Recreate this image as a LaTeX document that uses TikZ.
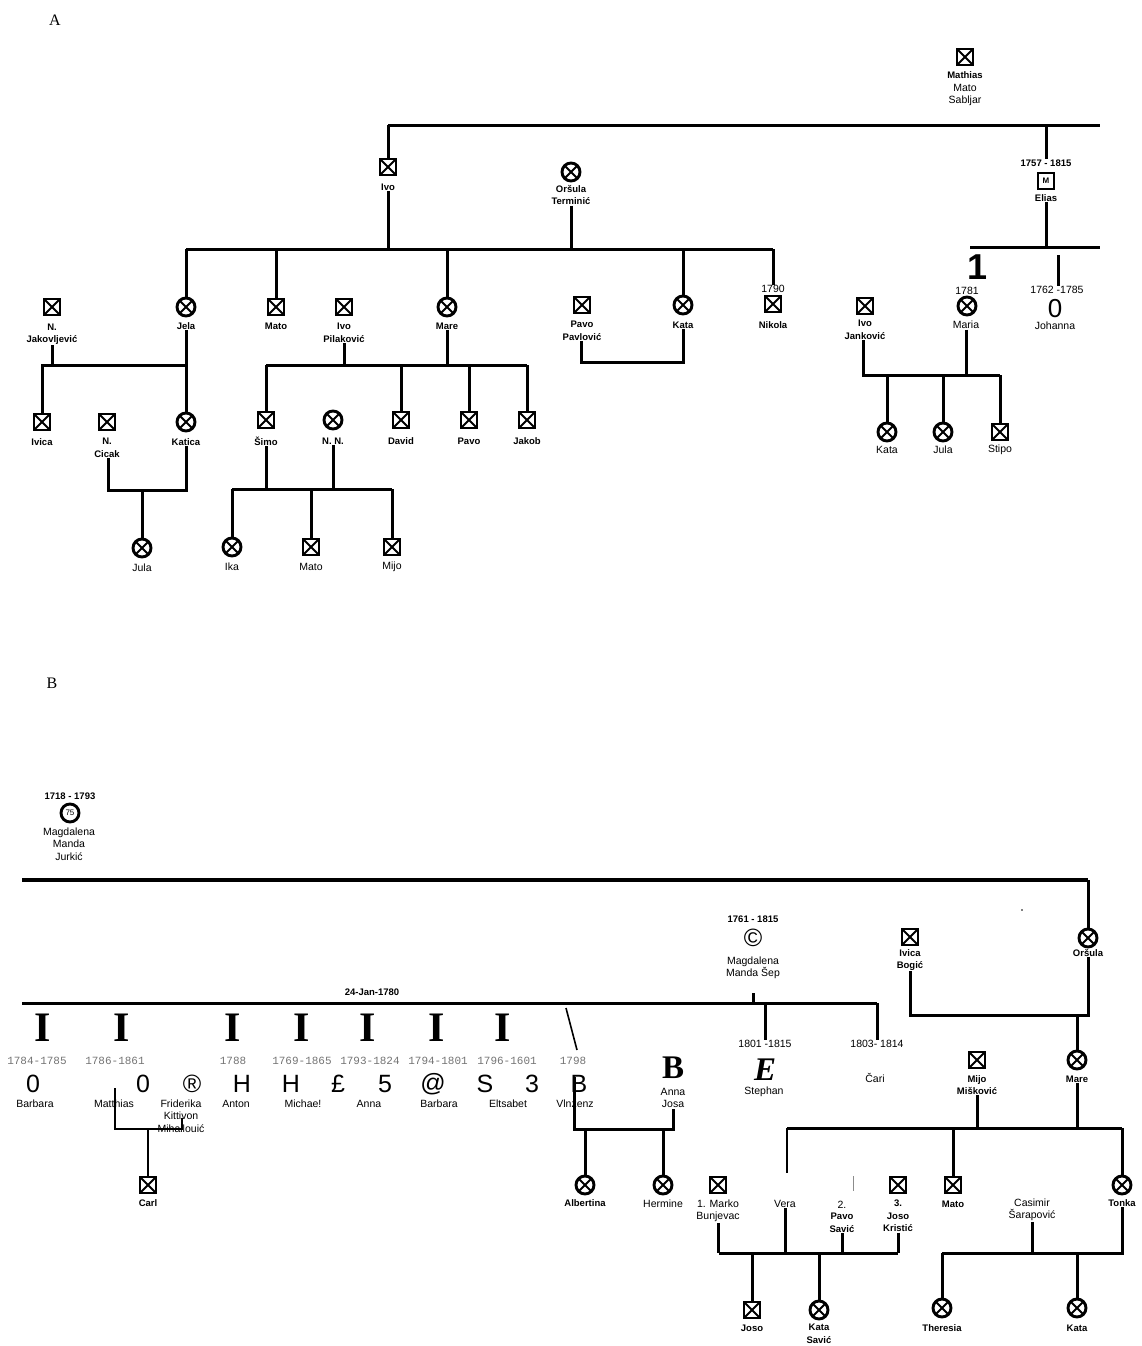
\documentclass[tikz,border=0pt]{standalone}
\usepackage{fontspec}
\setmainfont{Liberation Sans}
\setmonofont{Liberation Mono}
\newfontfamily\serifface{Liberation Serif}
\usetikzlibrary{positioning, calc}

\tikzset{
  kin/.style={line width=3pt},
  xmark/.style={path picture={\draw[line width=1.9pt]
      (path picture bounding box.south west) -- (path picture bounding box.north east)
      (path picture bounding box.north west) -- (path picture bounding box.south east);}},
  male/.style={draw, line width=2.9pt, minimum size=16pt, inner sep=0pt, xmark},
  female/.style={draw, circle, line width=2.9pt, minimum size=18pt, inner sep=0pt, xmark},
  nm/.style={font=\fontsize{10.5}{12.5}\selectfont, align=center, inner sep=0.5pt},
  bnm/.style={font=\bfseries\fontsize{9.5}{12.5}\selectfont, align=center, inner sep=0.5pt},
  yr/.style={font=\ttfamily\fontsize{11}{12}\selectfont, text=black!55, inner sep=0.5pt},
  glyph/.style={font=\fontsize{25}{25}\selectfont, inner sep=0pt},
  barI/.style={font=\serifface\bfseries\fontsize{42}{42}\selectfont, inner sep=0pt},
  sec/.style={font=\serifface\fontsize{16}{16}\selectfont, inner sep=0pt},
}

\begin{document}
\begin{tikzpicture}[x=1pt,y=-1pt]
\useasboundingbox (0,0) rectangle (1142,1346);

% ---------------- A ----------------
\node[sec] (secA) at (55,20) {A};
\node[male] (mathias) at (965,57) {};
\node[bnm] (mathiasL) at (965,75) {Mathias};
\node[nm] (mathiasN) at (965,95) {Mato\\Sabljar};
\coordinate (sabBar) at (388,125);
\coordinate (sabBarE) at (1100,125);
\draw[kin] (sabBar) -- (sabBarE);

\node[male] (ivo) at (388,167) {};
\node[bnm] (ivoL) at (388,187) {Ivo};
\draw[kin] (sabBar) -- (ivo);

% Elias line
\node[bnm] (eliasD) at (1046,163) {1757 - 1815};
\node[draw, line width=2.9pt, minimum size=16pt, inner sep=0pt,
      font=\bfseries\fontsize{8}{8}\selectfont] (elias) at (1046,181) {M};
\node[bnm] (eliasL) at (1046,198) {Elias};
\draw[kin] (sabBar -| eliasD) -- (eliasD.north);
\coordinate (eliasBar) at (970,247);
\coordinate (eliasBarE) at (1100,247);
\draw[kin] (eliasL) -- (eliasL |- eliasBar);
\draw[kin] (eliasBar) -- (eliasBarE);

\node[font=\bfseries\fontsize{36}{36}\selectfont, inner sep=0pt] (maria1) at (977,267) {1};
\node[nm] (mariaD) at (967,291) {1781};
\node[female] (maria) at (967,306) {};
\node[nm] (mariaL) at (966,325) {Maria};
\node[nm] (johannaD) at (1057,290) {1762 -1785};
\coordinate (johannaT) at (1058,255);
\draw[kin] (johannaT) -- (johannaT |- johannaD.north);
\node[font=\fontsize{26}{26}\selectfont, inner sep=0pt] (johanna) at (1055,309) {0};
\node[nm] (johannaL) at (1055,326) {Johanna};

\node[male] (jankovic) at (865,306) {};
\node[bnm] (jankovicL) at (865,330) {Ivo\\Janković};
\coordinate (mariaBar) at (863,375);
\coordinate (mariaBarE) at (1000,375);
\draw[kin] (mariaBar |- jankovicL.south) -- (mariaBar) -- (mariaBarE);
\draw[kin] (mariaL) -- (mariaL |- mariaBar);
\node[female] (kataJ) at (887,432) {};
\node[female] (julaJ) at (943,432) {};
\node[male] (stipo) at (1000,432) {};
\node[nm] (kataJL) at (887,450) {Kata};
\node[nm] (julaJL) at (943,450) {Jula};
\node[nm] (stipoL) at (1000,450) {Stipo};
\draw[kin] (kataJ |- mariaBar) -- (kataJ);
\draw[kin] (julaJ |- mariaBar) -- (julaJ);
\draw[kin] (mariaBarE) -- (stipo);

% Ivo + Oršula
\node[female] (orsula) at (571,172) {};
\node[bnm] (orsulaL) at (571,195) {Oršula\\Terminić};
\coordinate (ivoBar) at (186,249);
\coordinate (ivoBarE) at (773,249);
\draw[kin] (ivoL) -- (ivoL |- ivoBar);
\draw[kin] (orsulaL) -- (orsulaL |- ivoBar);
\draw[kin] (ivoBar) -- (ivoBarE);

\node[female] (jela) at (186,307) {};
\node[bnm] (jelaL) at (186,326) {Jela};
\node[male] (matoI) at (276,307) {};
\node[bnm] (matoIL) at (276,326) {Mato};
\node[female] (mare) at (447,307) {};
\node[bnm] (mareL) at (447,326) {Mare};
\node[female] (kataI) at (683,305) {};
\node[bnm] (kataIL) at (683,325) {Kata};
\node[nm] (nikolaD) at (773,289) {1790};
\node[male] (nikola) at (773,304) {};
\node[bnm] (nikolaL) at (773,325) {Nikola};
\draw[kin] (ivoBar) -- (jela);
\draw[kin] (matoI |- ivoBar) -- (matoI);
\draw[kin] (mare |- ivoBar) -- (mare);
\draw[kin] (kataI |- ivoBar) -- (kataI);
\draw[kin] (ivoBarE) -- (nikolaD);

\node[male] (pavlovic) at (582,305) {};
\node[bnm] (pavlovicL) at (582,331) {Pavo\\Pavlović};
\coordinate (kataBar) at (581,362);
\draw[kin] (pavlovicL.south -| kataBar) -- (kataBar) -| (kataIL.south);

% Jela family
\node[male] (jakov) at (52,307) {};
\node[bnm] (jakovL) at (52,334) {N.\\Jakovljević};
\coordinate (jelaBar) at (42,365);
\node[male] (ivica) at (42,422) {};
\node[bnm] (ivicaL) at (42,442) {Ivica};
\node[male] (cicak) at (107,422) {};
\node[bnm] (cicakL) at (107,448) {N.\\Cicak};
\node[female] (katica) at (186,422) {};
\node[bnm] (katicaL) at (186,442) {Katica};
\draw[kin] (jakovL) -- (jakovL |- jelaBar);
\draw[kin] (ivica) -- (jelaBar) -- (jelaBar -| jela);
\draw[kin] (jelaL) -- (katica);
\coordinate (katicaBar) at (108,490);
\draw[kin] (cicakL.south -| katicaBar) -- (katicaBar) -| (katicaL.south);
\node[female] (julaK) at (142,548) {};
\node[nm] (julaKL) at (142,568) {Jula};
\draw[kin] (julaK |- katicaBar) -- (julaK);

% Mare family
\node[male] (pilakovic) at (344,307) {};
\node[bnm] (pilakovicL) at (344,333) {Ivo\\Pilaković};
\coordinate (mareBar) at (266,365);
\coordinate (mareBarE) at (527,365);
\draw[kin] (mareBar) -- (mareBarE);
\draw[kin] (pilakovicL) -- (pilakovicL |- mareBar);
\draw[kin] (mareL) -- (mareL |- mareBar);
\node[male] (simo) at (266,420) {};
\node[female] (nn) at (333,420) {};
\node[male] (david) at (401,420) {};
\node[male] (pavoM) at (469,420) {};
\node[male] (jakob) at (527,420) {};
\node[bnm] (simoL) at (266,441) {Šimo};
\node[bnm] (nnL) at (333,441) {N. N.};
\node[bnm] (davidL) at (401,441) {David};
\node[bnm] (pavoML) at (469,441) {Pavo};
\node[bnm] (jakobL) at (527,441) {Jakob};
\draw[kin] (mareBar) -- (simo);
\draw[kin] (david |- mareBar) -- (david);
\draw[kin] (pavoM |- mareBar) -- (pavoM);
\draw[kin] (mareBarE) -- (jakob);

\coordinate (simoBar) at (232,489);
\coordinate (simoBarE) at (392,489);
\draw[kin] (simoL) -- (simoL |- simoBar);
\draw[kin] (nnL) -- (nnL |- simoBar);
\draw[kin] (simoBar) -- (simoBarE);
\node[female] (ika) at (232,547) {};
\node[male] (matoS) at (311,547) {};
\node[male] (mijo) at (392,547) {};
\node[nm] (ikaL) at (232,567) {Ika};
\node[nm] (matoSL) at (311,567) {Mato};
\node[nm] (mijoL) at (392,567) {Mijo};
\draw[kin] (simoBar) -- (ika);
\draw[kin] (matoS |- simoBar) -- (matoS);
\draw[kin] (simoBarE) -- (mijo);

% ---------------- B ----------------
\node[sec] (secB) at (52,683) {B};
\node[bnm] (jurkicD) at (70,796) {1718 - 1793};
\node[draw, circle, line width=2.9pt, minimum size=18pt, inner sep=0pt,
      font=\fontsize{8}{8}\selectfont] (jurkic) at (70,813) {75};
\node[nm] (jurkicL) at (69,844) {Magdalena\\Manda\\Jurkić};
\coordinate (jurkicBar) at (22,880);
\coordinate (jurkicBarE) at (1088,880);
\node[female] (orsulaB) at (1088,938) {};
\node[bnm] (orsulaBL) at (1088,953) {Oršula};
\draw[kin, line width=3.8pt] (jurkicBar) -- (jurkicBarE);
\draw[kin] (jurkicBarE) -- (orsulaB);

% Šep marriage
\coordinate (sepBar) at (22,1003);
\coordinate (sepBarE) at (877,1003);
\draw[kin] (sepBar) -- (sepBarE);
\node[bnm] (wedding) at (372,992) {24-Jan-1780};
\node[bnm] (sepD) at (753,919) {1761 - 1815};
\node[glyph] (sep) at (753,938) {©};
\node[nm] (sepL) at (753,968) {Magdalena\\Manda Šep};
\coordinate (sepT) at (753,993);
\draw[kin] (sepT) -- (sepT |- sepBar);

\node[nm] (stephanD) at (765,1044) {1801 -1815};
\draw[kin] (stephanD |- sepBar) -- (stephanD);
\node[font=\serifface\bfseries\itshape\fontsize{33}{33}\selectfont, inner sep=0pt] (stephanE) at (765,1070) {E};
\node[nm] (stephanL) at (764,1092) {Stephan};
\node[nm] (cariD) at (877,1044) {1803- 1814};
\draw[kin] (sepBarE) -- (cariD);
\node[nm] (cari) at (875,1078) {Čari};

% the row of children
\foreach \x [count=\i] in {43,122,233,302,368,437,503}
  \node[barI] (bar\i) at (\x,1028) {I};
\foreach \x/\d [count=\i] in {37/1784-1785,115/1786-1861,233/1788,302/1769-1865,
    370/1793-1824,438/1794-1801,507/1796-1601,573/1798}
  \node[yr] (yr\i) at (\x,1061) {\d};
\foreach \x/\g [count=\i] in {33/0,143/0,192/®,242/H,291/H,338/£,385/5,433/@,485/S,532/3,579/B}
  \node[glyph] (gl\i) at (\x,1084) {\g};
\foreach \x/\n [count=\i] in {35/Barbara,114/Matthias,236/Anton,303/Michae!,
    369/Anna,439/Barbara,508/Eltsabet,575/Vlnzenz}
  \node[nm] (kid\i) at (\x,1104) {\n};
\node[nm] (friderika) at (181,1116) {Friderika\\Kittivon\\Mihailouić};

\coordinate (matthiasT) at (115,1088);
\coordinate (carlBar) at (115,1129);
\coordinate (friderikaT) at (182,1118);
\draw[kin, line width=2.2pt] (matthiasT) -- (carlBar) -| (friderikaT);
\node[male] (carl) at (148,1185) {};
\node[bnm] (carlL) at (148,1203) {Carl};
\draw[kin, line width=2.2pt] (carl |- carlBar) -- (carl);

\coordinate (vinzA) at (566,1008);
\coordinate (vinzB) at (577,1050);
\draw[line width=1.6pt] (vinzA) -- (vinzB);
\node[font=\serifface\bfseries\fontsize{33}{33}\selectfont, inner sep=0pt] (josaB) at (673,1068) {B};
\node[nm] (josa) at (673,1098) {Anna\\Josa};
\coordinate (vinzT) at (574,1077);
\coordinate (josaBar) at (574,1129);
\draw[kin] (vinzT) -- (josaBar) -| (josa.south);
\node[female] (albertina) at (585,1185) {};
\node[bnm] (albertinaL) at (585,1203) {Albertina};
\node[female] (hermine) at (663,1185) {};
\node[nm] (hermineL) at (663,1204) {Hermine};
\draw[kin] (albertina |- josaBar) -- (albertina);
\draw[kin] (hermine |- josaBar) -- (hermine);

% Oršula + Bogić
\node[male] (bogic) at (910,937) {};
\node[bnm] (bogicL) at (910,960) {Ivica\\Bogić};
\coordinate (mareBBar) at (910,1015);
\draw[kin] (bogicL) -- (mareBBar) -| (orsulaBL.south);
\node[female] (mareB) at (1077,1060) {};
\node[bnm] (mareBL) at (1077,1079) {Mare};
\draw[kin] (mareB |- mareBBar) -- (mareB);
\node[male] (miskovic) at (977,1060) {};
\node[bnm] (miskovicL) at (977,1085) {Mijo\\Mišković};
\coordinate (mareCBar) at (787,1128);
\coordinate (mareCBarE) at (1122,1128);
\draw[kin] (mareCBar) -- (mareCBarE);
\draw[kin] (miskovicL) -- (miskovicL |- mareCBar);
\draw[kin] (mareBL) -- (mareBL |- mareCBar);

\coordinate (veraT) at (787,1173);
\draw[kin, line width=2.2pt] (mareCBar) -- (veraT);
\node[nm] (vera) at (785,1204) {Vera};
\node[male] (matoB) at (953,1185) {};
\node[bnm] (matoBL) at (953,1204) {Mato};
\draw[kin] (matoB |- mareCBar) -- (matoB);
\node[female] (tonka) at (1122,1185) {};
\node[bnm] (tonkaL) at (1122,1203) {Tonka};
\draw[kin] (mareCBarE) -- (tonka);
\coordinate (strayA) at (853,1176);
\coordinate (strayB) at (853,1191);
\draw[line width=0.9pt, black!45] (strayA) -- (strayB);
\node[circle, fill, inner sep=0.6pt] (dot) at (1022,910) {};

% Vera's husbands
\node[male] (marko) at (718,1185) {};
\node[nm] (markoL) at (718,1211) {1. Marko\\Bunjevac};
\node[nm] (savicN) at (842,1205) {2.};
\node[bnm] (savicL) at (842,1223) {Pavo\\Savić};
\node[male] (kristic) at (898,1185) {};
\node[bnm] (kristicL) at (898,1216) {3.\\Joso\\Kristić};
\coordinate (veraBar) at (719,1253);
\coordinate (veraBarE) at (898,1253);
\draw[kin] (veraBar) -- (veraBarE);
\draw[kin] (markoL) -- (markoL |- veraBar);
\draw[kin] (vera) -- (vera |- veraBar);
\draw[kin] (savicL) -- (savicL |- veraBar);
\draw[kin] (kristicL) -- (veraBarE);
\node[male] (joso) at (752,1310) {};
\node[bnm] (josoL) at (752,1328) {Joso};
\node[female] (kataS) at (819,1310) {};
\node[bnm] (kataSL) at (819,1334) {Kata\\Savić};
\draw[kin] (joso |- veraBar) -- (joso);
\draw[kin] (kataS |- veraBar) -- (kataS);

% Tonka + Šarapović
\node[nm] (casimir) at (1032,1210) {Casimir\\Šarapović};
\coordinate (tonkaBar) at (942,1253);
\coordinate (tonkaBarE) at (1122,1253);
\draw[kin] (casimir) -- (casimir |- tonkaBar);
\draw[kin] (tonkaL) -- (tonkaBarE) -- (tonkaBar);
\node[female] (theresia) at (942,1308) {};
\node[bnm] (theresiaL) at (942,1328) {Theresia};
\node[female] (kataT) at (1077,1308) {};
\node[bnm] (kataTL) at (1077,1328) {Kata};
\draw[kin] (tonkaBar) -- (theresia);
\draw[kin] (kataT |- tonkaBar) -- (kataT);
\end{tikzpicture}
\end{document}
